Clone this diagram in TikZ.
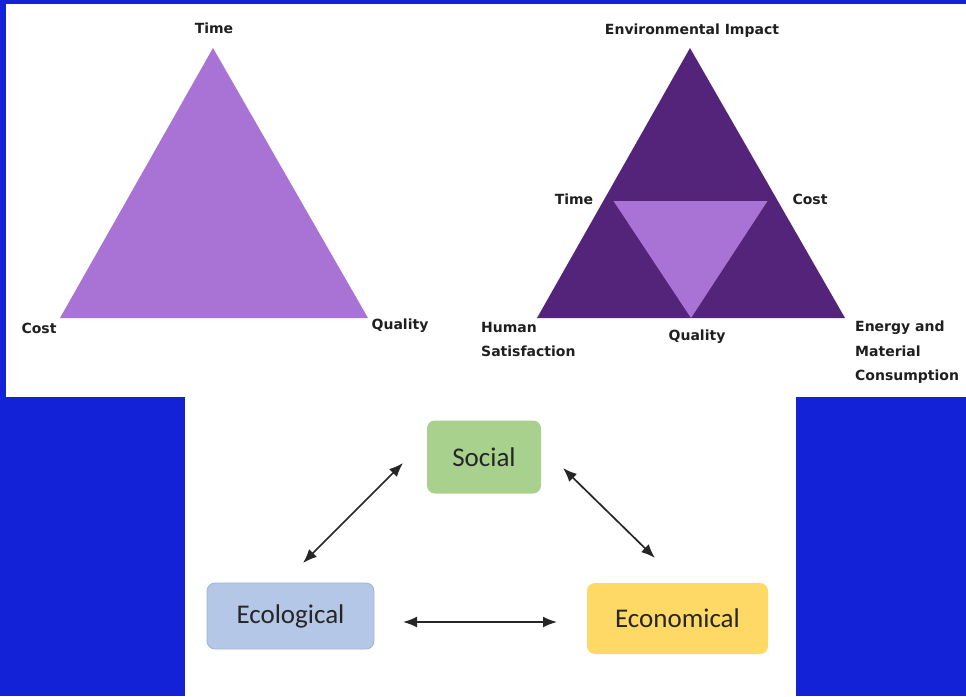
\documentclass[tikz,border=0pt]{standalone}
\usepackage{fontspec}
\setmainfont{DejaVu Sans}
\newfontfamily\boxfont{Carlito}
\usetikzlibrary{arrows.meta}
\definecolor{bgblue}{HTML}{1322D6}
\definecolor{lightpurple}{HTML}{A873D4}
\definecolor{darkpurple}{HTML}{54247A}
\definecolor{socialgreen}{HTML}{A9D18E}
\definecolor{econyellow}{HTML}{FFD966}
\definecolor{ecoblue}{HTML}{B4C7E7}
\definecolor{ecoedge}{HTML}{A2B4D4}
\begin{document}
\begin{tikzpicture}[x=1pt,y=-1pt,
  lbl/.style={font=\fontsize{14}{24.5}\selectfont\bfseries, text=black!88, inner sep=0pt},
  lbll/.style={lbl, align=left, anchor=west},
  pillar/.style={rounded corners=8pt, inner sep=0pt, text=black!85,
    font=\boxfont\fontsize{27}{32}\selectfont},
  link/.style={{Latex[length=14pt,width=11pt]}-{Latex[length=14pt,width=11pt]}, line width=1.7pt, black!85}
]
\fill[bgblue] (0,0) rectangle (966,696);
\useasboundingbox (0,0) rectangle (966,696);
\fill[white] (6,4) rectangle (966,397);
\fill[white] (185,397) rectangle (796,696);

% left triangle
\coordinate (lA) at (213,48);
\coordinate (lB) at (60,318);
\coordinate (lC) at (368,318);
\fill[lightpurple] (lA) -- (lB) -- (lC) -- cycle;
\node[lbl] (ltime) at (214,28) {Time};
\node[lbl] (lcost) at (39,328) {Cost};
\node[lbl] (lqual) at (400,326) {Quality};

% right triangle
\coordinate (rA) at (690,48);
\coordinate (rB) at (537,318);
\coordinate (rC) at (845,318);
\coordinate (rAB) at (613.5,201);
\coordinate (rAC) at (767.5,201);
\coordinate (rBC) at (691,318);
\fill[darkpurple] (rA) -- (rB) -- (rC) -- cycle;
\fill[lightpurple] (rAB) -- (rAC) -- (rBC) -- cycle;
\node[lbl] (renv) at (692,31) {Environmental Impact};
\node[lbl] (rtime) at (574,199) {Time};
\node[lbl] (rcost) at (810,199) {Cost};
\node[lbl] (rqual) at (697,337) {Quality};
\node[lbll] (rhuman) at (481,339.5) {Human\\Satisfaction};
\node[lbll] (renergy) at (855,352.5) {Energy and\\Material\\Consumption};

% bottom diagram
\node[pillar, fill=socialgreen, minimum width=114pt, minimum height=73pt] (social) at (484,457) {\raisebox{-1pt}{Social}};
\node[pillar, fill=econyellow, minimum width=181pt, minimum height=71pt] (economical) at (677.5,618.5) {\raisebox{-1pt}{Economical}};
\node[pillar, fill=ecoblue, draw=ecoedge, line width=0.8pt, minimum width=167pt, minimum height=66pt] (ecological) at (290.5,616) {\raisebox{-2pt}{Ecological}};

\coordinate (s1) at (403,463);
\coordinate (e1) at (303,563);
\coordinate (s2) at (563,468);
\coordinate (m2) at (655,558);
\coordinate (e3) at (403,622);
\coordinate (m3) at (557,622);
\draw[link] (s1) -- (e1);
\draw[link] (s2) -- (m2);
\draw[link] (e3) -- (m3);
\end{tikzpicture}
\end{document}
